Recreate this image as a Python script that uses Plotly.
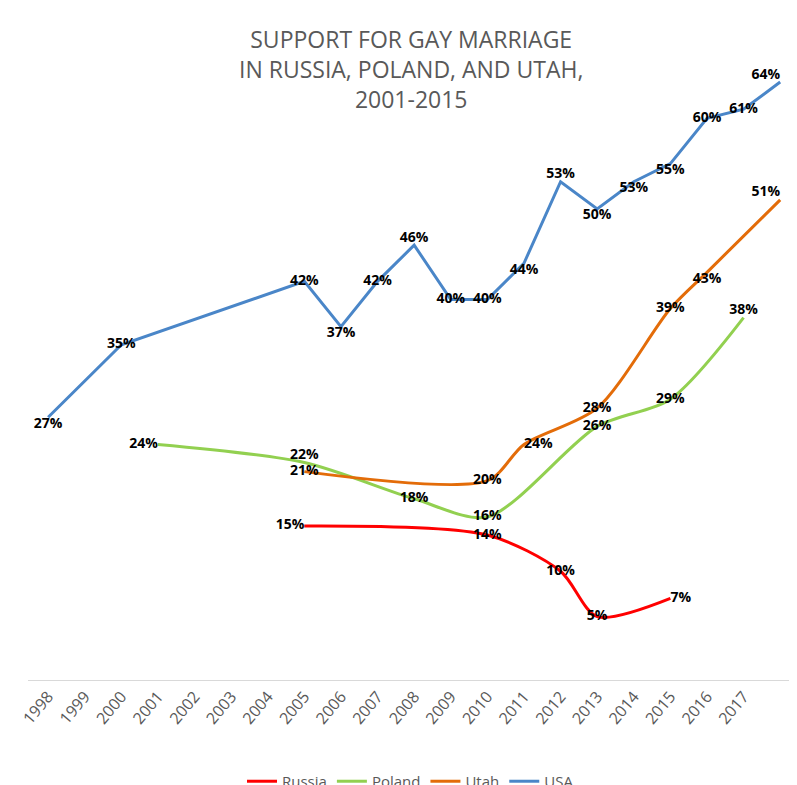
import plotly.graph_objects as go

years = list(range(1998, 2018))

usa_x = [1998, 2000, 2005, 2006, 2007, 2008, 2009, 2010, 2011, 2012, 2013, 2014, 2015, 2016, 2017, 2018]
usa_y = [27, 35, 42, 37, 42, 46, 40, 40, 44, 53, 50, 53, 55, 60, 61, 64]
usa_pos = ["bottom center", "middle center", "middle center", "bottom center", "middle center", "top center",
           "middle center", "middle center", "bottom center", "top center", "bottom center", "bottom center",
           "bottom center", "middle center", "middle center", "top left"]

utah_x = [2005, 2010, 2011, 2013, 2015, 2016, 2018]
utah_y = [21, 20, 24, 28, 39, 43, 51]
utah_pos = ["middle center", "middle center", "middle right", "middle center", "middle center", "bottom center", "top left"]

poland_x = [2001, 2005, 2008, 2010, 2013, 2015, 2017]
poland_y = [24, 22, 18, 16, 26, 29, 38]
poland_pos = ["middle left", "top center", "middle center", "middle center", "middle center", "middle center", "top center"]

russia_x = [2005, 2010, 2012, 2013, 2015]
russia_y = [15, 14, 10, 5, 7]
russia_pos = ["middle left", "middle center", "middle center", "middle center", "middle right"]

fig = go.Figure()
series = [
    ("Russia", russia_x, russia_y, russia_pos, "#ff0000", "spline"),
    ("Poland", poland_x, poland_y, poland_pos, "#92d050", "spline"),
    ("Utah", utah_x, utah_y, utah_pos, "#e36c09", "spline"),
    ("USA", usa_x, usa_y, usa_pos, "#4a86c8", "linear"),
]
for name, x, y, pos, color, shape in series:
    fig.add_trace(go.Scatter(
        x=x, y=y, name=name, mode="lines+text",
        line=dict(color=color, width=3, shape=shape, smoothing=0.8),
        text=[f"<b>{v}%</b>" for v in y], textposition=pos,
        textfont=dict(color="black", size=14, family="Open Sans"),
        cliponaxis=False,
    ))

fig.add_annotation(
    text="SUPPORT FOR GAY MARRIAGE<br>IN RUSSIA, POLAND, AND UTAH,<br>2001-2015",
    xref="paper", yref="paper", x=0.5, y=1.085, xanchor="center", yanchor="top",
    showarrow=False, font=dict(size=23, color="#595959", family="Open Sans"))

fig.update_layout(
    width=797, height=785, plot_bgcolor="white", paper_bgcolor="white",
    margin=dict(l=20, r=12, t=65, b=113, autoexpand=False),
    legend=dict(orientation="h", x=0.5, xanchor="center", y=-0.14, yanchor="top",
                font=dict(size=15, color="#595959", family="Open Sans"), traceorder="normal"),
    font=dict(family="Open Sans"),
)
fig.update_xaxes(range=[1997.45, 2018.35], tickvals=years, ticktext=[str(y) for y in years],
                 tickangle=-50, tickfont=dict(size=16, color="#595959"),
                 showgrid=False, showline=True, linecolor="#d9d9d9", zeroline=False)
fig.update_yaxes(range=[-2, 65], visible=False)

fig.write_html("out.html")
